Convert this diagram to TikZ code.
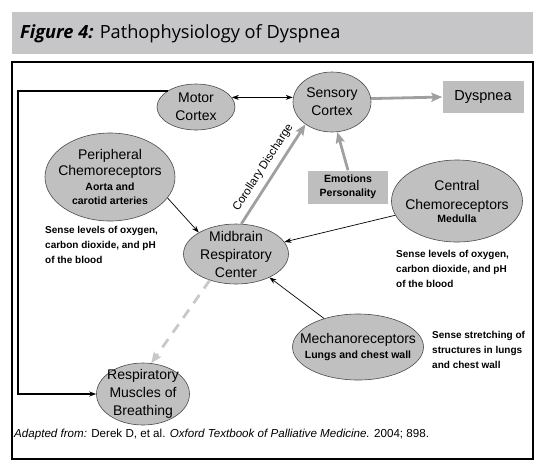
\documentclass[tikz,border=0pt]{standalone}
\usepackage{fontspec}
\setmainfont{Liberation Sans}
\newfontfamily\titlefont{Open Sans}
\usetikzlibrary{arrows.meta,shapes.geometric,positioning}
\definecolor{barfill}{HTML}{C6C6C8}
\definecolor{ovalfill}{HTML}{C0C0C0}
\definecolor{ovalline}{HTML}{4A4A4A}
\definecolor{boxfill}{HTML}{BEBEBE}
\definecolor{feelc}{HTML}{A0A0A0}
\definecolor{effc}{HTML}{C8C8C8}
\newcommand{\subtxt}[1]{{\fontsize{10.5}{14}\selectfont\bfseries #1}}
\tikzset{
  oval/.style={ellipse, draw=ovalline, line width=0.6pt, fill=ovalfill, inner sep=-20pt,
               align=center, font=\fontsize{14}{18}\selectfont},
  graybox/.style={fill=boxfill, inner sep=0pt, align=center},
  note/.style={font=\fontsize{10}{15}\selectfont\bfseries, align=left, anchor=north west, inner sep=0pt},
  nerve/.style={-{Stealth[length=7pt,width=5pt]}, line width=0.7pt},
  twoway/.style={{Stealth[length=7pt,width=5pt]}-{Stealth[length=7pt,width=5pt]}, line width=0.7pt},
  motorline/.style={-{Stealth[length=7pt,width=5pt]}, line width=1.6pt},
  feel/.style={-{Stealth[length=11pt,width=9pt,inset=2pt]}, line width=2.8pt, draw=feelc},
  efferent/.style={feel, draw=effc, dash pattern=on 10pt off 8pt},
}
\def\railx{18}

\begin{document}
\begin{tikzpicture}[x=1pt,y=-1pt]
  \useasboundingbox (0,0) rectangle (543,467);
  \fill[barfill] (12,12) rectangle (533,54);
  \node[anchor=west, inner sep=0pt, font=\titlefont\fontsize{18.2}{20}\selectfont] (title) at (20,34)
    {\textbf{\textit{Figure 4:}} Pathophysiology of Dyspnea};
  \draw[line width=1.1pt] (12,62) rectangle (533,459);

  \node[oval, minimum width=78pt, minimum height=46pt] (motor) at (196,107) {Motor\\Cortex};
  \node[oval, minimum width=78pt, minimum height=60pt] (sensory) at (332,102) {Sensory\\Cortex};
  \node[graybox, minimum width=81pt, minimum height=32pt, font=\fontsize{14.5}{18}\selectfont] (dyspnea) at (483,97) {Dyspnea};
  \node[oval, minimum width=130pt, minimum height=88pt] (periph) at (110,177)
    {Peripheral\\[-2pt]Chemoreceptors\\[-3pt]\subtxt{Aorta and}\\[-4pt]\subtxt{carotid arteries}};
  \node[graybox, minimum width=80pt, minimum height=33pt, font=\fontsize{10.5}{14}\selectfont\bfseries] (emotions) at (348,187)
    {Emotions\\Personality};
  \node[oval, minimum width=131pt, minimum height=82pt] (central) at (457,201)
    {Central\\[1pt]Chemoreceptors\\[-5pt]\subtxt{Medulla}};
  \node[oval, minimum width=105pt, minimum height=60pt] (midbrain) at (236,254) {Midbrain\\Respiratory\\Center};
  \node[oval, minimum width=131pt, minimum height=66pt] (mechano) at (358,347)
    {Mechanoreceptors\\[-3pt]\subtxt{Lungs and chest wall}};
  \node[oval, minimum width=93pt, minimum height=62pt] (muscles) at (143,394) {Respiratory\\Muscles of\\Breathing};

  \node[note] (pnote) at (45,226) {Sense levels of oxygen,\\carbon dioxide, and pH\\of the blood};
  \node[note] (cnote) at (396,250) {Sense levels of oxygen,\\carbon dioxide, and pH\\of the blood};
  \node[note] (mnote) at (432,331) {Sense stretching of\\structures in lungs\\and chest wall};
  \node[anchor=base west, inner sep=0pt, font=\fontsize{11.6}{13}\selectfont] (source) at (14,437)
    {\textit{Adapted from:} Derek D, et al. \textit{Oxford Textbook of Palliative Medicine.} 2004; 898.};

  \draw[twoway] (motor.15) -- (motor.15 -| sensory.west);
  \draw[feel] (sensory.5) -- (dyspnea.west);
  \draw[feel] (emotions.north) -- (sensory.-80);
  \draw[feel] (midbrain.80) -- node[sloped, above=2pt, font=\fontsize{11.5}{13}\selectfont] {Corollary Discharge} (sensory.220);
  \draw[efferent] (midbrain.225) -- (muscles.75);
  \draw[nerve] (periph.-20) -- (midbrain.150);
  \draw[nerve] (central.193) -- (midbrain.14);
  \draw[nerve] (mechano.140) -- (midbrain.-35);
  \draw[motorline] (motor.150) -- (motor.150 -| \railx,0) |- (muscles.west);
\end{tikzpicture}
\end{document}
